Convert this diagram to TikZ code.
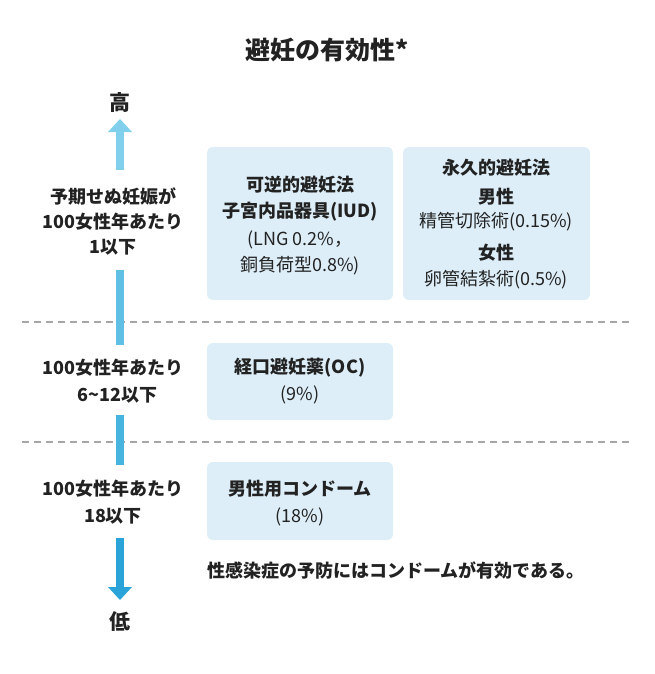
\documentclass[tikz,border=0pt]{standalone}
\usepackage{fontspec}
\setmainfont{Noto Sans CJK JP}
\begin{document}
\begin{tikzpicture}[x=1pt,y=-1pt,
 box/.style={fill=boxc,rounded corners=6pt,draw=none},
 t/.style={font=\fontsize{18}{21}\selectfont,text=txt,inner sep=0pt},
 b/.style={t,font=\fontsize{18}{21}\selectfont\bfseries},
 seg/.style={line width=8pt},
 dashl/.style={draw=gray!70,line width=1.2pt,dash pattern=on 7pt off 5pt}]
\definecolor{boxc}{HTML}{DDEEF8}
\definecolor{txt}{HTML}{222222}
\definecolor{a1}{HTML}{80CFEC}
\definecolor{a2}{HTML}{5FBFE4}
\definecolor{a3}{HTML}{47B3DF}
\definecolor{a4}{HTML}{2AA3D8}
\useasboundingbox (0,0) rectangle (654,674);
\node[b,font=\fontsize{25}{28}\selectfont\bfseries] (title) at (327,50) {避妊の有効性*};
\node[b,font=\fontsize{21}{24}\selectfont\bfseries] (hi) at (120,103) {高};
\node[b,font=\fontsize{21}{24}\selectfont\bfseries] (lo) at (120,622) {低};
% dashed lines
\coordinate (d1a) at (22,322); \coordinate (d1b) at (632,322);
\coordinate (d2a) at (22,442); \coordinate (d2b) at (632,442);
\draw[dashl] (d1a) -- (d1b);
\draw[dashl] (d2a) -- (d2b);
% arrow
\coordinate (s1a) at (120,170); \coordinate (s1b) at (120,131);
\coordinate (h1) at (120,119);
\draw[a1,seg] (s1a) -- (s1b);
\fill[a1] (108,132) -- (h1) -- (132,132) -- cycle;
\coordinate (s2a) at (120,270); \coordinate (s2b) at (120,345);
\draw[a2,seg] (s2a) -- (s2b);
\coordinate (s3a) at (120,415); \coordinate (s3b) at (120,465);
\draw[a3,seg] (s3a) -- (s3b);
\coordinate (s4a) at (120,538); \coordinate (s4b) at (120,588);
\coordinate (h4) at (120,600);
\draw[a4,seg] (s4a) -- (s4b);
\fill[a4] (108,587) -- (h4) -- (132,587) -- cycle;
% left labels
\node[b,align=center,font=\fontsize{18}{25}\selectfont\bfseries] (l1) at (113,221) {予期せぬ妊娠が\\100女性年あたり\\1以下};
\node[b,align=center,font=\fontsize{18}{27}\selectfont\bfseries] (l2) at (113,381) {100女性年あたり\\\ \ 6\textasciitilde12以下};
\node[b,align=center,font=\fontsize{18}{27}\selectfont\bfseries] (l3) at (113,502) {100女性年あたり\\18以下};
% boxes
\fill[box] (207,147) rectangle (393,300);
\fill[box] (403,147) rectangle (590,300);
\fill[box] (207,343) rectangle (393,420);
\fill[box] (207,462) rectangle (393,540);
\node[b] (b1a) at (300,185) {可逆的避妊法};
\node[b] (b1b) at (300,212) {子宮内品器具(IUD)};
\node[t] (b1c) at (300,240) {(LNG 0.2\%，};
\node[t] (b1d) at (300,266) {銅負荷型0.8\%)};
\node[b] (b2a) at (496,168) {永久的避妊法};
\node[b] (b2b) at (496,197) {男性};
\node[t] (b2c) at (496,222) {精管切除術(0.15\%)};
\node[b] (b2d) at (496,253) {女性};
\node[t] (b2e) at (496,280) {卵管結紮術(0.5\%)};
\node[b] (b3a) at (300,368) {経口避妊薬(OC)};
\node[t] (b3b) at (300,395) {(9\%)};
\node[b] (b4a) at (300,489) {男性用コンドーム};
\node[t] (b4b) at (300,517) {(18\%)};
\node[b,anchor=west] (note) at (207,570) {性感染症の予防にはコンドームが有効である。};
\end{tikzpicture}
\end{document}
